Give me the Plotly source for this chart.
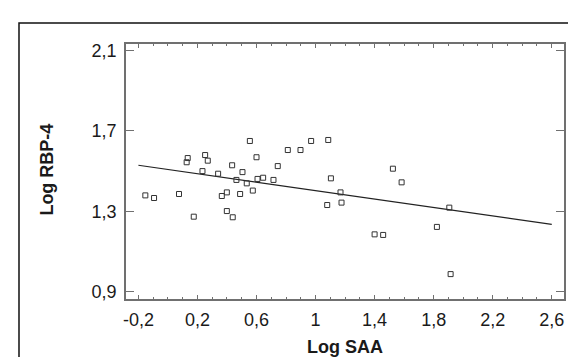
import plotly.graph_objects as go

# Data
log_saa = [-0.153, -0.094, 0.075, 0.175, 0.127, 0.134, 0.252, 0.270, 0.234, 0.340,
           0.365, 0.399, 0.399, 0.439, 0.435, 0.464, 0.505, 0.489, 0.534, 0.555,
           0.575, 0.600, 0.607, 0.645, 0.715, 0.744, 0.812, 0.898, 0.970, 1.086,
           1.104, 1.079, 1.169, 1.176, 1.524, 1.583, 1.400, 1.458, 1.822, 1.906,
           1.915]
log_rbp4 = [1.379, 1.366, 1.386, 1.273, 1.544, 1.565, 1.580, 1.552, 1.500, 1.487,
            1.376, 1.394, 1.301, 1.270, 1.529, 1.456, 1.495, 1.386, 1.439, 1.650,
            1.403, 1.569, 1.461, 1.467, 1.456, 1.525, 1.605, 1.605, 1.650, 1.655,
            1.464, 1.331, 1.394, 1.343, 1.512, 1.444, 1.185, 1.182, 1.222, 1.318,
            0.987]

fit_x = [-0.2, 2.6]
fit_y = [1.529, 1.235]

x_tickvals = [-0.2, 0.2, 0.6, 1.0, 1.4, 1.8, 2.2, 2.6]
x_ticktext = ["-0,2", "0,2", "0,6", "1", "1,4", "1,8", "2,2", "2,6"]
y_tickvals = [0.9, 1.3, 1.7, 2.1]
y_ticktext = ["0,9", "1,3", "1,7", "2,1"]

AX = "#707070"
FONT = "Liberation Sans, Arial, sans-serif"

fig = go.Figure()
fig.add_trace(go.Scatter(
    x=fit_x, y=fit_y, mode="lines",
    line=dict(color="#222222", width=1.2),
    showlegend=False, hoverinfo="skip"))
fig.add_trace(go.Scatter(
    x=log_saa, y=log_rbp4, mode="markers",
    marker=dict(symbol="square-open", size=5, color="#333333",
                line=dict(width=1, color="#333333")),
    showlegend=False))

fig.update_layout(
    width=576, height=357,
    margin=dict(l=118, r=20, t=36, b=66, pad=0),
    paper_bgcolor="white", plot_bgcolor="white",
    font=dict(family=FONT, size=18, color="#1a1a1a"),
    xaxis=dict(
        range=[-0.284, 2.683], showgrid=False, zeroline=False,
        showline=True, linecolor=AX, linewidth=1.5, mirror="allticks",
        ticks="inside", ticklen=4, tickwidth=1, tickcolor=AX,
        tickmode="array", tickvals=x_tickvals, ticktext=x_ticktext,
        minor=dict(ticks="inside", ticklen=2, tickwidth=1, tickcolor=AX,
                   dtick=0.1, tick0=-0.2, showgrid=False),
        tickfont=dict(size=18), ticklabelstandoff=4,
    ),
    yaxis=dict(
        range=[0.863, 2.133], showgrid=False, zeroline=False,
        showline=True, linecolor=AX, linewidth=1.5, mirror="allticks",
        ticks="inside", ticklen=8, tickwidth=1, tickcolor=AX,
        tickmode="array", tickvals=y_tickvals, ticktext=y_ticktext,
        tickfont=dict(size=18), ticklabelstandoff=4,
    ),
    annotations=[
        dict(text="<b>Log SAA</b>", xref="paper", yref="paper",
             x=0.5, y=-0.188, xanchor="center", yanchor="middle",
             showarrow=False, font=dict(size=18, family=FONT, color="#1a1a1a")),
        dict(text="<b>Log RBP-4</b>", xref="paper", yref="paper",
             x=-0.180, y=0.508, xanchor="center", yanchor="middle",
             textangle=-90, showarrow=False,
             font=dict(size=18, family=FONT, color="#1a1a1a")),
    ],
    shapes=[
        dict(type="rect", xref="paper", yref="paper",
             x0=-0.2443, x1=1.2, y0=-0.4, y1=1.0824,
             line=dict(color="#111111", width=1.5), layer="below"),
    ],
)

fig.write_html("out.html")
